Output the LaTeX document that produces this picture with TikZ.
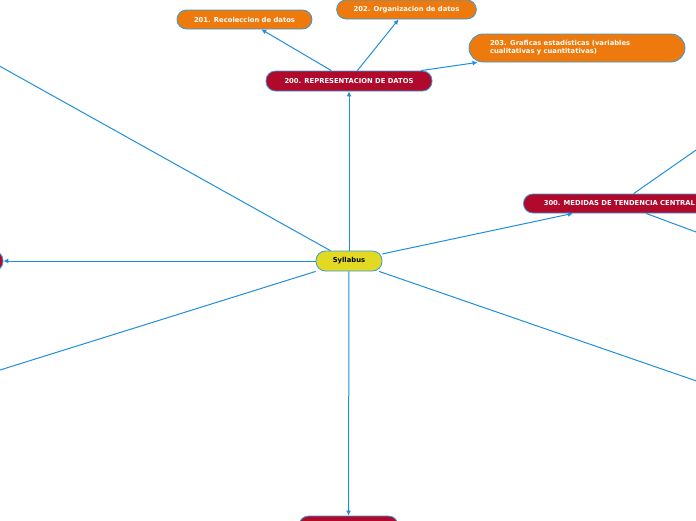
\documentclass[tikz,border=0pt]{standalone}
\usepackage{fontspec}
\setmainfont{DejaVu Sans}
\usetikzlibrary{arrows.meta,positioning}
\definecolor{linkblue}{HTML}{1E90DB}
\definecolor{edgeblue}{HTML}{3A9AD9}
\definecolor{topicred}{HTML}{B0092B}
\definecolor{suborange}{HTML}{EE7A0E}
\definecolor{rootyellow}{HTML}{E2D922}
\begin{document}
\begin{tikzpicture}[x=1pt,y=-1pt,
every node/.style={draw=edgeblue,line width=.8pt,rounded corners=9.5pt,
  font=\fontsize{6.8}{8}\selectfont\bfseries,minimum height=19pt,inner xsep=17pt},
root/.style={fill=rootyellow,text=black,minimum width=66pt,minimum height=20pt,inner xsep=0pt},
topic/.style={fill=topicred,text=white},
sub/.style={fill=suborange,text=white},
link/.style={draw=linkblue,line width=1pt,-{Latex[length=5pt,width=5pt]}}]
\useasboundingbox (0,0) rectangle (696,520);
\clip (0,0) rectangle (696,520);
\node[root] (S) at (349,261) {Syllabus};
\node[topic,minimum width=166pt,minimum height=20pt] (T200) at (349,81) {200. REPRESENTACION DE DATOS};
\node[sub,minimum width=135pt] (O201) at (244.5,19.5) {201. Recoleccion de datos};
\node[sub,minimum width=139pt] (O202) at (406.5,9.5) {202. Organizacion de datos};
\node[sub,minimum width=216pt,minimum height=28pt,rounded corners=14pt,inner xsep=21pt,
  text width=174pt,align=left] (O203) at (577,48) {203. Graficas estad\'isticas (variables\\cualitativas y cuantitativas)};
\node[topic,anchor=west,minimum width=192pt] (T300) at (523,203.5) {300. MEDIDAS DE TENDENCIA CENTRAL};
\node[topic,minimum width=120pt,minimum height=20pt] (TL) at (-57,261) {};
\node[topic,minimum width=99pt,minimum height=20pt] (TB) at (348.5,526) {};
\coordinate (CTL) at (-40,44);
\coordinate (CBL) at (-40,382.5);
\coordinate (CBR) at (740,396);
\coordinate (CTR) at (740,119.4);
\coordinate (CMR) at (740,248.3);
\draw[link] (S) -- (T200);
\draw[link] (T200) -- (O201);
\draw[link] (T200) -- (O202);
\draw[link] (T200) -- (O203);
\draw[link] (S) -- (T300);
\draw[link] (T300) -- (CTR);
\draw[link] (T300) -- (CMR);
\draw[link] (S) -- (TL);
\draw[link] (S) -- (TB);
\draw[link] (S) -- (CTL);
\draw[link] (S) -- (CBL);
\draw[link] (S) -- (CBR);
\end{tikzpicture}
\end{document}
